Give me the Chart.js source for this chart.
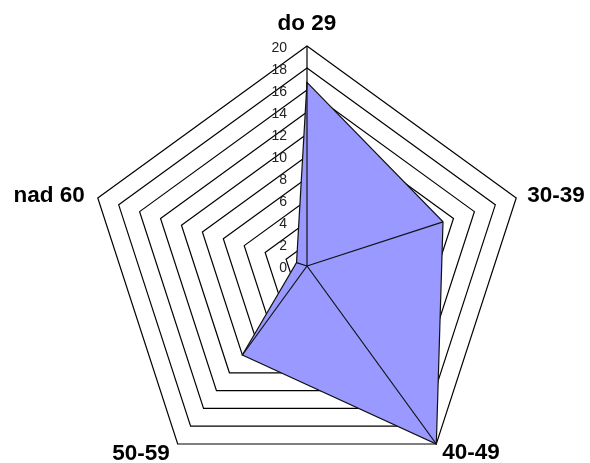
<!DOCTYPE html>
<html>
<head>
<meta charset="utf-8">
<script src="https://cdn.jsdelivr.net/npm/chart.js@4/dist/chart.umd.min.js"></script>
<style>
  html, body { margin: 0; padding: 0; background: #fff; overflow: hidden; }
  #wrap { width: 590px; height: 486px; }
</style>
</head>
<body>
<div id="wrap"><canvas id="chart"></canvas></div>
<script>
// age groups and their values
const categories = ['do 29', '30-39', '40-49', '50-59', 'nad 60'];
const values = [16.7, 13, 20, 10, 1];
const tickValues = [0, 2, 4, 6, 8, 10, 12, 14, 16, 18, 20];

// where each category label sits relative to its outer corner
const labelPlace = [
  { dx: 0, dy: -22, align: 'center' },
  { dx: 11, dy: -2, align: 'left' },
  { dx: 6, dy: 9, align: 'left' },
  { dx: -8, dy: 10, align: 'right' },
  { dx: -13, dy: -2, align: 'right' }
];

const extras = {
  id: 'extras',
  afterDatasetsDraw(chart) {
    const scale = chart.scales.r;
    const ctx = chart.ctx;
    ctx.save();
    // spokes from the centre to every data point, over the fill
    ctx.strokeStyle = '#111';
    ctx.lineWidth = 1.2;
    values.forEach((v, i) => {
      const p = scale.getPointPositionForValue(i, v);
      ctx.beginPath();
      ctx.moveTo(scale.xCenter, scale.yCenter);
      ctx.lineTo(p.x, p.y);
      ctx.stroke();
    });
    // tick labels left of the first axis
    ctx.fillStyle = '#222';
    ctx.font = '14px "Liberation Sans", Arial, sans-serif';
    ctx.textAlign = 'right';
    ctx.textBaseline = 'middle';
    tickValues.forEach(t => {
      const p = scale.getPointPositionForValue(0, t);
      ctx.fillText(String(t), p.x - 20, p.y + 2);
    });
    // category labels
    ctx.fillStyle = '#000';
    ctx.font = 'bold 22.5px "Liberation Sans", Arial, sans-serif';
    categories.forEach((c, i) => {
      const p = scale.getPointPositionForValue(i, scale.max);
      const lp = labelPlace[i];
      ctx.textAlign = lp.align;
      ctx.fillText(c, p.x + lp.dx, p.y + lp.dy);
    });
    ctx.restore();
  }
};

new Chart(document.getElementById('chart'), {
  type: 'radar',
  data: {
    labels: categories,
    datasets: [{
      data: values,
      backgroundColor: '#9999ff',
      borderColor: '#111',
      borderWidth: 1.2,
      pointRadius: 0,
      fill: true
    }]
  },
  options: {
    responsive: true,
    maintainAspectRatio: false,
    animation: false,
    layout: { padding: { left: 87, right: 63, top: 46, bottom: 0 } },
    plugins: { legend: { display: false }, tooltip: { enabled: false } },
    scales: {
      r: {
        min: 0,
        max: 20,
        ticks: { display: false, stepSize: 2 },
        grid: { color: '#000', lineWidth: 1.2, circular: false },
        angleLines: {
          color: (ctx) => ctx.index === 0 ? '#000' : 'rgba(0,0,0,0)',
          lineWidth: 1.2
        },
        pointLabels: { display: false }
      }
    }
  },
  plugins: [extras]
});
</script>
</body>
</html>
